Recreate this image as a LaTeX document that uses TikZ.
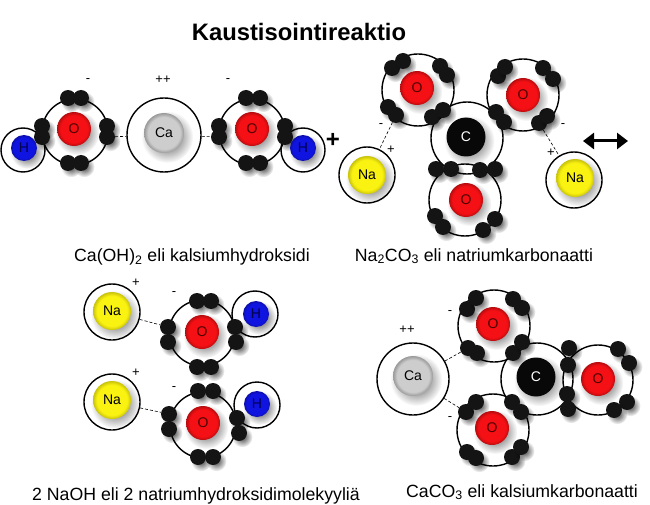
\documentclass[tikz,border=0pt]{standalone}
\usepackage{fontspec}
\setmainfont{Liberation Sans}
\usetikzlibrary{shadows,arrows.meta,fadings}

\definecolor{redO}{RGB}{244,16,20}
\definecolor{blueH}{RGB}{16,20,225}
\definecolor{yellowNa}{RGB}{250,242,16}
\definecolor{grayCa}{RGB}{205,205,205}
\definecolor{blackC}{RGB}{8,8,8}
\pgfdeclareradialshading{ballO}{\pgfpointorigin}{color(0bp)=(redO); color(20bp)=(redO); color(25bp)=(redO!75!black); color(50bp)=(redO!75!black)}
\pgfdeclareradialshading{ballH}{\pgfpointorigin}{color(0bp)=(blueH); color(20bp)=(blueH); color(25bp)=(blueH!75!black); color(50bp)=(blueH!75!black)}
\pgfdeclareradialshading{ballNa}{\pgfpointorigin}{color(0bp)=(yellowNa); color(20bp)=(yellowNa); color(25bp)=(yellowNa!80!black); color(50bp)=(yellowNa!80!black)}
\pgfdeclareradialshading{ballCa}{\pgfpointorigin}{color(0bp)=(grayCa); color(20bp)=(grayCa); color(25bp)=(grayCa!75!black); color(50bp)=(grayCa!75!black)}
\tikzfading[name=softedge, inner color=transparent!25, outer color=transparent!100]

\tikzset{
  softshadow/.style={drop shadow={opacity=1, fill=black, path fading=softedge,
    shadow scale=1.3, shadow xshift=2.5pt, shadow yshift=-3pt}},
  shell/.style={circle, draw=black, line width=1.4pt, inner sep=0pt, minimum size=#1},
  nucleus/.style={circle, inner sep=0pt, font=\fontsize{14}{16}\selectfont, softshadow},
  oxygen/.style={nucleus, shading=ballO, minimum size=34pt, text=black!70!red},
  hydrogen/.style={nucleus, shading=ballH, minimum size=26pt, text=black!70!blue},
  sodium/.style={nucleus, shading=ballNa, minimum size=38pt},
  calcium/.style={nucleus, shading=ballCa, minimum size=40pt},
  carbon/.style={nucleus, fill=blackC, minimum size=39pt, text=white},
  electron/.style={circle, fill=black!92, inner sep=0pt, minimum size=16pt, softshadow},
  bond/.style={densely dashed, line width=0.6pt},
  charge/.style={inner sep=0pt, font=\fontsize{13}{15}\selectfont},
  caption/.style={inner sep=0pt, font=\fontsize{17.7}{20}\selectfont},
}

\begin{document}
\begin{tikzpicture}[x=1pt, y=-1pt]
  \useasboundingbox (0,0) rectangle (650,505);

  % Title and captions
  \node[inner sep=0pt, font=\fontsize{23.8}{26}\selectfont\bfseries] (title) at (299,32) {Kaustisointireaktio};
  \node[caption] (capA) at (192,257) {Ca(OH)\textsubscript{2} eli kalsiumhydroksidi};
  \node[caption] (capB) at (474,256) {Na\textsubscript{2}CO\textsubscript{3} eli natriumkarbonaatti};
  \node[caption] (capC) at (196,496) {2 NaOH eli 2 natriumhydroksidimolekyyliä};
  \node[caption] (capD) at (522,492) {CaCO\textsubscript{3} eli kalsiumkarbonaatti};

  % Ca(OH)2: shells
  \node[shell=44pt] (sH1) at (23,150) {};
  \node[shell=66pt] (sO1) at (75,132) {};
  \node[shell=74pt] (sCa1) at (164,135) {};
  \node[shell=66pt] (sO2) at (252,132) {};
  \node[shell=44pt] (sH2) at (303,150) {};

  % Ca(OH)2: electrons
  \node[electron] (e1a) at (68,98) {};
  \node[electron] (e1b) at (81,98) {};
  \node[electron] (e1c) at (68,163) {};
  \node[electron] (e1d) at (81,163) {};
  \node[electron] (e1e) at (42,126) {};
  \node[electron] (e1f) at (42,137) {};
  \node[electron] (e1g) at (107,126) {};
  \node[electron] (e1h) at (107,137) {};
  \node[electron] (e2a) at (246,98) {};
  \node[electron] (e2b) at (260,98) {};
  \node[electron] (e2c) at (246,163) {};
  \node[electron] (e2d) at (260,163) {};
  \node[electron] (e2e) at (219,126) {};
  \node[electron] (e2f) at (219,137) {};
  \node[electron] (e2g) at (285,126) {};
  \node[electron] (e2h) at (285,137) {};

  % Ca(OH)2: nuclei
  \node[hydrogen] (nH1) at (24,148) {H};
  \node[oxygen] (nO1) at (74,129) {O};
  \node[calcium] (nCa1) at (164,133) {Ca};
  \node[oxygen] (nO2) at (252,129) {O};
  \node[hydrogen] (nH2) at (303,148) {H};

  % Ca(OH)2: bonds and charges
  \draw[bond] (e1h) -- (sCa1);
  \draw[bond] (sCa1) -- (e2f);
  \node[charge] (mA1) at (88,81) {-};
  \node[charge] (pA) at (163,80) {++};
  \node[charge] (mA2) at (228,81) {-};
  \node[inner sep=0pt, font=\fontsize{24}{26}\selectfont\bfseries] (plus) at (333,140) {+};

  % Na2CO3: shells
  \node[shell=72pt] (sO3) at (418,90) {};
  \node[shell=72pt] (sO4) at (523,95) {};
  \node[shell=72pt] (sC1) at (467,138) {};
  \node[shell=72pt] (sO5) at (465,200) {};
  \node[shell=56pt] (sNa1) at (367,175) {};
  \node[shell=56pt] (sNa2) at (574,180) {};

  % Na2CO3: electrons
  \node[electron] (e3a) at (392,68) {};
  \node[electron] (e3b) at (403,61) {};
  \node[electron] (e3c) at (440,66) {};
  \node[electron] (e3d) at (447,75) {};
  \node[electron] (e3e) at (388,107) {};
  \node[electron] (e3f) at (396,115) {};
  \node[electron] (e3g) at (432,117) {};
  \node[electron] (e3h) at (443,110) {};
  \node[electron] (e4a) at (498,76) {};
  \node[electron] (e4b) at (505,67) {};
  \node[electron] (e4c) at (543,68) {};
  \node[electron] (e4d) at (553,79) {};
  \node[electron] (e4e) at (496,112) {};
  \node[electron] (e4f) at (504,122) {};
  \node[electron] (e4g) at (539,123) {};
  \node[electron] (e4h) at (547,116) {};
  \node[electron] (e5a) at (436,169) {};
  \node[electron] (e5b) at (451,169) {};
  \node[electron] (e5c) at (480,170) {};
  \node[electron] (e5d) at (495,169) {};
  \node[electron] (e5e) at (435,216) {};
  \node[electron] (e5f) at (443,227) {};
  \node[electron] (e5g) at (483,230) {};
  \node[electron] (e5h) at (495,219) {};

  % Na2CO3: nuclei
  \node[oxygen] (nO3) at (417,88) {O};
  \node[oxygen] (nO4) at (523,95) {O};
  \node[carbon] (nC1) at (466,137) {C};
  \node[oxygen] (nO5) at (466,200) {O};
  \node[sodium] (nNa1) at (367,175) {Na};
  \node[sodium] (nNa2) at (575,178) {Na};

  % Na2CO3: bonds and charges
  \draw[bond] (e3f) -- (sNa1);
  \draw[bond] (e4g) -- (sNa2);
  \node[charge] (mB1) at (381,126) {-};
  \node[charge] (pB1) at (391,150) {+};
  \node[charge] (mB2) at (563,126) {-};
  \node[charge] (pB2) at (551,153) {+};

  % Equilibrium arrow
  \coordinate (arrowL) at (583,141);
  \coordinate (arrowR) at (628,141);
  \draw[line width=3pt, {Stealth[length=11pt,width=16pt,inset=0pt]}-{Stealth[length=11pt,width=16pt,inset=0pt]}] (arrowL) -- (arrowR);

  % NaOH, upper: shells and electrons
  \node[shell=56pt] (sNa3) at (112,312) {};
  \node[shell=66pt] (sO6) at (202,333) {};
  \node[shell=46pt] (sH3) at (255,314) {};
  \node[electron] (e6a) at (197,301) {};
  \node[electron] (e6b) at (211,301) {};
  \node[electron] (e6c) at (197,367) {};
  \node[electron] (e6d) at (211,367) {};
  \node[electron] (e6e) at (168,327) {};
  \node[electron] (e6f) at (168,342) {};
  \node[electron] (e6g) at (235,327) {};
  \node[electron] (e6h) at (236,342) {};
  \node[sodium] (nNa3) at (112,311) {Na};
  \node[oxygen] (nO6) at (202,332) {O};
  \node[hydrogen] (nH3) at (256,314) {H};
  \draw[bond] (sNa3) -- (e6e);
  \node[charge] (pC1) at (136,283) {+};
  \node[charge] (mC1) at (174,294) {-};

  % NaOH, lower: shells and electrons
  \node[shell=56pt] (sNa4) at (112,402) {};
  \node[shell=66pt] (sO7) at (203,425) {};
  \node[shell=46pt] (sH4) at (257,405) {};
  \node[electron] (e7a) at (198,391) {};
  \node[electron] (e7b) at (213,391) {};
  \node[electron] (e7c) at (198,457) {};
  \node[electron] (e7d) at (213,457) {};
  \node[electron] (e7e) at (169,414) {};
  \node[electron] (e7f) at (169,429) {};
  \node[electron] (e7g) at (237,418) {};
  \node[electron] (e7h) at (239,433) {};
  \node[sodium] (nNa4) at (112,400) {Na};
  \node[oxygen] (nO7) at (203,423) {O};
  \node[hydrogen] (nH4) at (257,404) {H};
  \draw[bond] (sNa4) -- (e7e);
  \node[charge] (pC2) at (136,373) {+};
  \node[charge] (mC2) at (174,389) {-};

  % CaCO3: shells
  \node[shell=72pt] (sCa2) at (413,379) {};
  \node[shell=72pt] (sO8) at (494,326) {};
  \node[shell=72pt] (sO9) at (493,430) {};
  \node[shell=72pt] (sC2) at (537,379) {};
  \node[shell=70pt] (sO10) at (598,380) {};

  % CaCO3: electrons
  \node[electron] (e8a) at (467,309) {};
  \node[electron] (e8b) at (476,298) {};
  \node[electron] (e8c) at (513,299) {};
  \node[electron] (e8d) at (522,308) {};
  \node[electron] (e8e) at (468,348) {};
  \node[electron] (e8f) at (477,353) {};
  \node[electron] (e8g) at (513,353) {};
  \node[electron] (e8h) at (522,342) {};
  \node[electron] (e9a) at (466,412) {};
  \node[electron] (e9b) at (476,402) {};
  \node[electron] (e9c) at (512,402) {};
  \node[electron] (e9d) at (521,412) {};
  \node[electron] (e9e) at (467,452) {};
  \node[electron] (e9f) at (476,458) {};
  \node[electron] (e9g) at (512,457) {};
  \node[electron] (e9h) at (521,447) {};
  \node[electron] (e10a) at (569,348) {};
  \node[electron] (e10b) at (568,365) {};
  \node[electron] (e10c) at (567,394) {};
  \node[electron] (e10d) at (568,409) {};
  \node[electron] (e10e) at (618,349) {};
  \node[electron] (e10f) at (629,363) {};
  \node[electron] (e10g) at (627,402) {};
  \node[electron] (e10h) at (614,410) {};

  % CaCO3: nuclei
  \node[calcium] (nCa2) at (413,376) {Ca};
  \node[oxygen] (nO8) at (493,324) {O};
  \node[oxygen] (nO9) at (492,428) {O};
  \node[carbon] (nC2) at (536,377) {C};
  \node[oxygen] (nO10) at (598,379) {O};

  % CaCO3: bonds and charges
  \draw[bond] (sCa2) -- (e8e);
  \draw[bond] (sCa2) -- (e9a);
  \node[charge] (pD) at (407,330) {++};
  \node[charge] (mD1) at (450,313) {-};
  \node[charge] (mD2) at (450,419) {-};
\end{tikzpicture}
\end{document}
